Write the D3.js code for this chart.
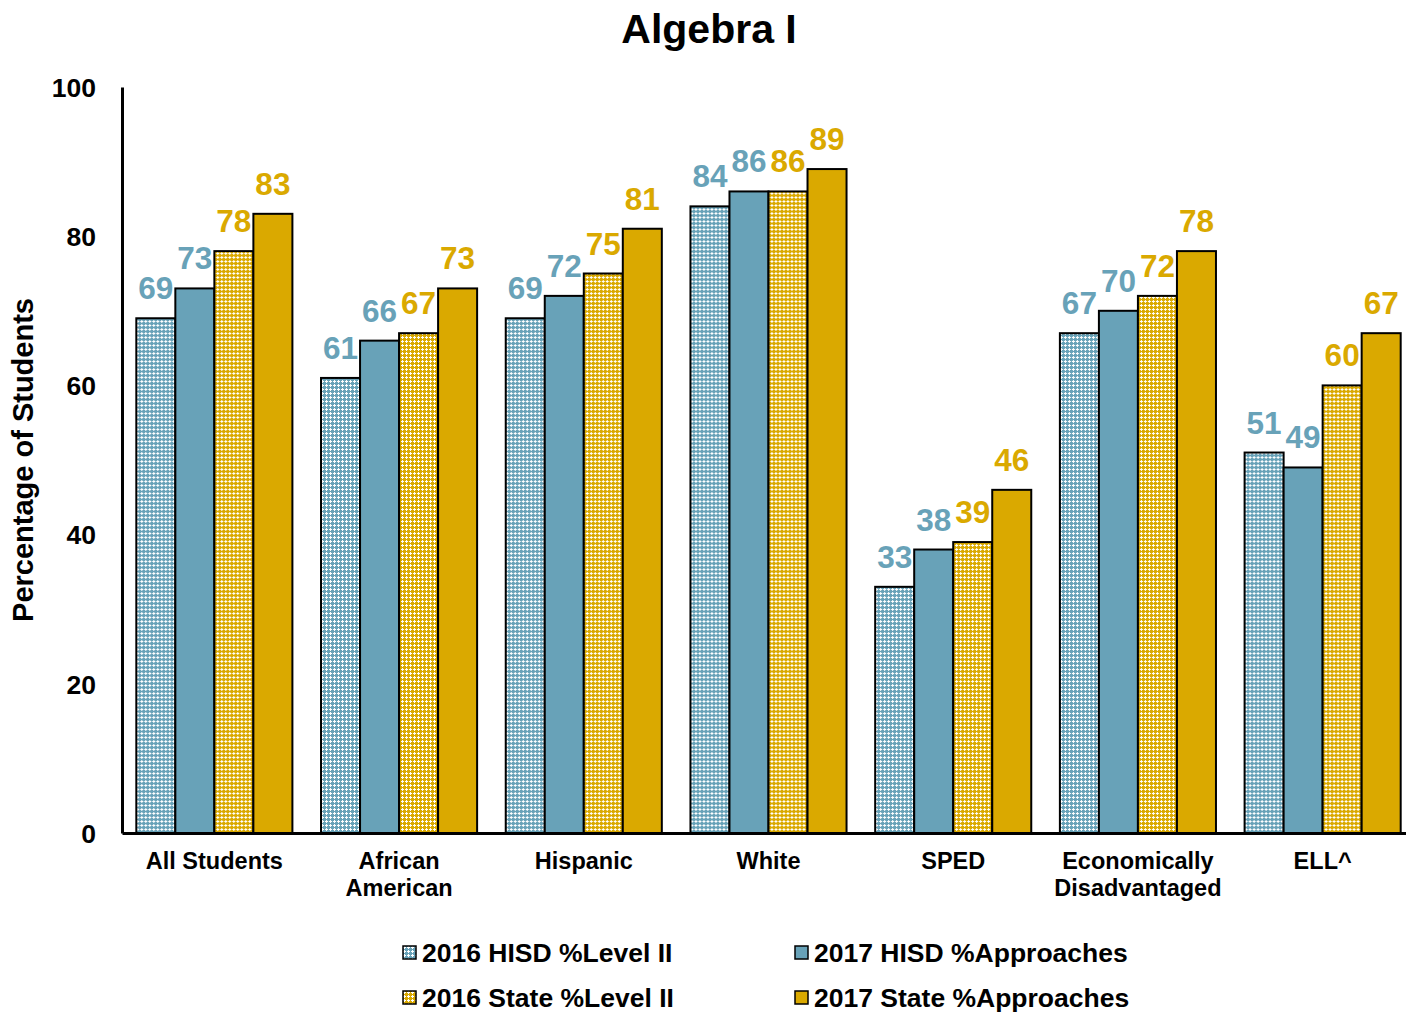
<!DOCTYPE html>
<html><head><meta charset="utf-8">
<script src="https://cdn.jsdelivr.net/npm/d3@7"></script>
<style>body{margin:0;background:#fff}svg{display:block;font-family:"Liberation Sans",Arial,sans-serif;font-weight:bold}</style>
</head><body>
<script>
const categories = [["All Students"],["African","American"],["Hispanic"],["White"],["SPED"],["Economically","Disadvantaged"],["ELL^"]];
const seriesNames = ["2016 HISD %Level II","2017 HISD %Approaches","2016 State %Level II","2017 State %Approaches"];
const hisd2016 = [69,61,69,84,33,67,51];
const hisd2017 = [73,66,72,86,38,70,49];
const state2016 = [78,67,75,86,39,72,60];
const state2017 = [83,73,81,89,46,78,67];
const yTicks = [0,20,40,60,80,100];

const series = [hisd2016, hisd2017, state2016, state2017];
const BLUE = "#68a2b8", GOLD = "#daa900";
const fills = ["url(#pBlue)", BLUE, "url(#pGold)", GOLD];
const labelColors = [BLUE, BLUE, GOLD, GOLD];

const W = 1406, H = 1012;
const svg = d3.select("body").append("svg").attr("width", W).attr("height", H);

const defs = svg.append("defs");
function pat(id, c){
  const p = defs.append("pattern").attr("id", id).attr("patternUnits","userSpaceOnUse").attr("width",4).attr("height",4);
  p.append("rect").attr("width",4).attr("height",4).attr("fill",c);
  p.append("rect").attr("x",0).attr("y",1).attr("width",3).attr("height",1).attr("fill","#fff");
  p.append("rect").attr("x",1).attr("y",0).attr("width",1).attr("height",3).attr("fill","#fff");
}
pat("pBlue", BLUE); pat("pGold", GOLD);

const y = d3.scaleLinear().domain([0,100]).range([833,87]);
const x = d3.scaleBand().domain(d3.range(categories.length)).range([122,1415]).paddingInner(0.155).paddingOuter(0.0775);
const xs = d3.scaleBand().domain(d3.range(series.length)).range([0, x.bandwidth()]);

// title
svg.append("text").attr("x",709).attr("y",43).attr("text-anchor","middle").attr("font-size",41).text("Algebra I");

// bars
const groups = svg.append("g").selectAll("g").data(categories).join("g")
  .attr("transform",(d,i)=>`translate(${x(i)},0)`);
series.forEach((vals, s) => {
  groups.append("rect")
    .attr("x", xs(s)).attr("width", xs.bandwidth())
    .attr("y", (d,i)=>y(vals[i])).attr("height",(d,i)=>y(0)-y(vals[i]))
    .attr("fill", fills[s]).attr("stroke","#000").attr("stroke-width",2);
});
series.forEach((vals, s) => {
  groups.append("text")
    .attr("x", xs(s)+xs.bandwidth()/2).attr("y",(d,i)=>y(vals[i])-19)
    .attr("text-anchor","middle").attr("font-size",31.5).attr("fill",labelColors[s])
    .text((d,i)=>vals[i]);
});

// y axis
const yAxis = d3.axisLeft(y).tickValues(yTicks).tickSize(0).tickPadding(26);
const gy = svg.append("g").attr("transform","translate(122,0)").call(yAxis);
gy.select(".domain").attr("stroke","#000").attr("stroke-width",3);
gy.selectAll("text").attr("font-size",26.5).attr("font-family","Liberation Sans, Arial, sans-serif").attr("font-weight","bold").attr("fill","#000").attr("dy","0.35em");

// x axis
const xAxis = d3.axisBottom(x).tickSize(0).tickFormat("");
const gx = svg.append("g").attr("transform","translate(0,833)").call(xAxis);
gx.select(".domain").attr("stroke","#000").attr("stroke-width",3);
gx.selectAll(".tick").each(function(d){
  const t = d3.select(this).append("text").attr("text-anchor","middle").attr("font-size",23.5).attr("fill","#000")
    .attr("font-family","Liberation Sans, Arial, sans-serif").attr("font-weight","bold");
  categories[d].forEach((line, k) => t.append("tspan").attr("x",0).attr("y",36+k*27).text(line));
});

// y title
svg.append("text").attr("transform","translate(33,460) rotate(-90)").attr("text-anchor","middle").attr("font-size",29).text("Percentage of Students");

// legend
const legPos = [[403,962],[795,962],[403,1007],[795,1007]];
const legOrder = [0,1,2,3];
legOrder.forEach((s,k) => {
  const [lx, ly] = legPos[k];
  const g = svg.append("g").attr("transform",`translate(${lx},${ly})`);
  g.append("rect").attr("x",0).attr("y",-16).attr("width",13).attr("height",13).attr("fill",fills[s]).attr("stroke","#000").attr("stroke-width",1.5);
  g.append("text").attr("x",19).attr("y",0).attr("font-size",26.5).text(seriesNames[s]);
});
</script>
</body></html>
